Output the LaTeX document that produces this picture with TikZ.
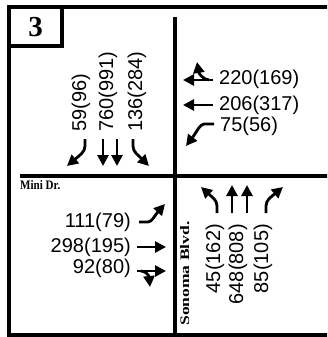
\documentclass[tikz,border=0pt]{standalone}
\usepackage{fontspec}
\setmainfont{Liberation Sans}
\newfontfamily\lserif{Liberation Serif}
\usetikzlibrary{arrows.meta}
\begin{document}
\begin{tikzpicture}[x=1pt,y=-1pt,
  mv/.style={line width=2.8pt, -{Triangle[length=11pt,width=11pt]}},
  vol/.style={font=\fontsize{20}{20}\selectfont, inner sep=0pt},
  street/.style={font=\lserif\bfseries\fontsize{13}{13}\selectfont, inner sep=0pt},
  road/.style={line width=3.4pt},
  frm/.style={line width=3.4pt}]
\useasboundingbox (0,0) rectangle (327,337);
\clip (0,0) rectangle (327,337);
\fill[white] (0,0) rectangle (327,337);
% frame and number box
\draw[frm] (9,7) rectangle (345,335);
\draw[frm] (9,7) rectangle (62,46);
\node[font=\lserif\bfseries\fontsize{29}{29}\selectfont, inner sep=0pt] (num) at (35.5,27) {3};
% roads
\draw[road] (175,17) -- (175,340);
\draw[road] (20,176) -- (340,176);
\node[street, anchor=north west, xscale=0.85] (mini) at (20,180) {Mini Dr.};
\node[street, rotate=90, anchor=north west, xscale=1.35] (sonoma) at (180,326) {Sonoma Blvd.};
% southbound
\node[vol, rotate=90, anchor=west] (sbr) at (81,132) {59(96)};
\node[vol, rotate=90, anchor=west] (sbt) at (108,132) {760(991)};
\node[vol, rotate=90, anchor=west] (sbl) at (137,132) {136(284)};
\draw[mv] (85,139) -- (85,146) .. controls (85,152) and (80,155) .. (67,166);
\draw[mv] (103,139) -- (103,166);
\draw[mv] (117,139) -- (117,166);
\draw[mv] (133,139) -- (133,146) .. controls (133,152) and (138,155) .. (149,166);
% northbound
\node[vol, rotate=90, anchor=east] (nbl) at (215,224) {45(162)};
\node[vol, rotate=90, anchor=east] (nbt) at (238,224) {648(808)};
\node[vol, rotate=90, anchor=east] (nbr) at (263,224) {85(105)};
\draw[mv] (217,213) -- (217,206) .. controls (217,200) and (212,197) .. (201,187);
\draw[mv] (232,213) -- (232,185);
\draw[mv] (247,213) -- (247,185);
\draw[mv] (266,213) -- (266,206) .. controls (266,200) and (271,197) .. (283,187);
% eastbound
\node[vol, anchor=east] (ebl) at (131,222) {111(79)};
\node[vol, anchor=east] (ebt) at (131,247) {298(195)};
\node[vol, anchor=east] (ebr) at (131,268) {92(80)};
\draw[mv] (139,222) -- (148,222) .. controls (152,222) and (155,215) .. (165,204);
\draw[mv] (137,247) -- (166,247);
\draw[mv] (137,271) -- (166,271);
\draw[mv] (141,271) .. controls (146,271) and (149,276) .. (150,287);
% westbound
\node[vol, anchor=west] (wbr) at (219,79) {220(169)};
\node[vol, anchor=west] (wbt) at (219,105) {206(317)};
\node[vol, anchor=west] (wbl) at (220,126) {75(56)};
\draw[mv] (213,80) -- (183,80);
\draw[mv] (209,80) .. controls (204,80) and (199,74) .. (197,62);
\draw[mv] (213,105) -- (183,105);
\draw[mv] (214,124) -- (204,124) .. controls (200,124) and (196,133) .. (186,146);
\end{tikzpicture}
\end{document}
